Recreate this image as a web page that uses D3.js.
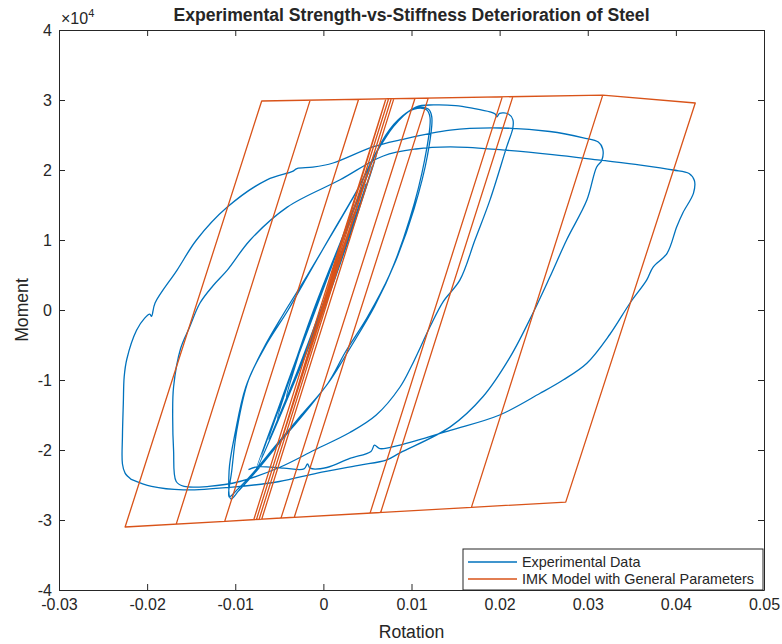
<!DOCTYPE html>
<html>
<head>
<meta charset="utf-8">
<script src="https://cdn.jsdelivr.net/npm/d3@7"></script>
<style>
  body { margin: 0; background: #ffffff; }
  text { font-family: "Liberation Sans", Arial, Helvetica, sans-serif; fill: #262626; }
</style>
</head>
<body>
<svg id="chart" width="782" height="644"></svg>
<script>
// ---------------- data ----------------
const titleText = "Experimental Strength-vs-Stiffness Deterioration of Steel";
const xLabelText = "Rotation";
const yLabelText = "Moment";
const seriesNames = ["Experimental Data", "IMK Model with General Parameters"];

const xTicks = [-0.03, -0.02, -0.01, 0, 0.01, 0.02, 0.03, 0.04, 0.05];
const xTickLabels = ["-0.03", "-0.02", "-0.01", "0", "0.01", "0.02", "0.03", "0.04", "0.05"];
const yTicks = [-40000, -30000, -20000, -10000, 0, 10000, 20000, 30000, 40000];
const yTickLabels = ["-4", "-3", "-2", "-1", "0", "1", "2", "3", "4"];

// Experimental hysteresis (null = break between traced segments)
const expRotation = [
  0, 0.0030, -0.0003, -0.0042, -0.0011, 0.0040, -0.0002, -0.0052, -0.0011, 0.0048, -0.0002, -0.0062, -0.0010,
  0.0055, -0.0001, -0.0070, -0.0010, 0.0062, 0.0000, -0.0077, -0.0009,
  0.0030, 0.0066, 0.0085, 0.0103, 0.0117, 0.0121,
  0.0115, 0.0098, 0.0075, 0.0050, 0.0025, 0.0005, -0.0025, -0.0055, -0.0080, -0.0098, -0.0107,
  -0.0104, -0.0098, -0.0085, -0.0065, -0.0040, -0.0015, 0.0010, 0.0040, 0.0065, 0.0088, 0.0106, 0.0119, 0.0123,
  0.0118, 0.0103, 0.0082, 0.0058, 0.0030, 0.0008, -0.0020, -0.0050, -0.0076, -0.0096, -0.0105,
  -0.0107, -0.0100, -0.0088, -0.0068, -0.0045, -0.0018, 0.0008, 0.0038, 0.0062, 0.0085, 0.0105, 0.0125, 0.0150, 0.0170,
  0.0189, 0.0195, 0.0197, 0.0200, 0.0210, 0.0215, 0.0215,
  0.0208, 0.0189, 0.0172, 0.0155, 0.0136, 0.0121, 0.0100, 0.0087, 0.0060, 0.0030, -0.0010, -0.0050, -0.0095, -0.0130, -0.0158, -0.0167,
  -0.0170, -0.0171, -0.0170, -0.0162, -0.0152, -0.0140, -0.0125, -0.0109, -0.0083, -0.0041, 0.0019, 0.0068, 0.0105, 0.0144,
  0.0200, 0.0260, 0.0314, 0.0360, 0.0397, 0.0415, 0.0421,
  0.0420, 0.0408, 0.0401, 0.0390, 0.0374, 0.0367, 0.0348, 0.0325, 0.0299, 0.0272, 0.0246, 0.0200, 0.0144, 0.0087,
  0.0064, 0.0058, 0.0054, 0.0030, 0.0004, -0.0015, -0.0018, -0.0022, -0.0045, -0.0075, -0.0085,
  null,
  -0.0218, -0.0225, -0.0228, -0.0228, -0.0227, -0.0226, -0.0223, -0.0212, -0.0203, -0.0197, -0.0195, -0.0191, -0.0166,
  -0.0144, -0.0109, -0.0064, -0.0035, -0.0030, -0.0012, 0.0011, 0.0056, 0.0087, 0.0144, 0.0200, 0.0257, 0.0295, 0.0312,
  0.0317, 0.0316, 0.0310, 0.0299, 0.0276, 0.0257, 0.0238, 0.0212, 0.0181, 0.0144, 0.0087, 0.0072, 0.0040, -0.0007,
  -0.0050, -0.0103, -0.0159, -0.0195, -0.0218
];
const expMoment = [
  0, 11500, 0, -12500, 0, 15000, 0, -15500, 0, 18000, 0, -18500, 0,
  20500, 0, -21000, 0, 23000, 0, -23000, 0,
  13000, 24000, 27200, 28700, 28600, 27500,
  21500, 13000, 5000, -1000, -6000, -10500, -15000, -19500, -23300, -25700, -26700,
  -23000, -17000, -10000, -5000, 0, 5500, 11000, 17500, 23500, 27500, 28900, 28700, 27600,
  22000, 14500, 7000, 500, -5500, -10000, -14500, -19000, -23000, -25800, -27000,
  -23000, -17500, -11000, -5500, -500, 5000, 10500, 17000, 23000, 27000, 29000, 29300, 29200, 28800,
  28300, 28000, 27600, 28100, 28000, 27200, 26000,
  23300, 15700, 10000, 4300, 1200, -2400, -8000, -11000, -15000, -17500, -20000, -22500, -24500, -25200, -25200, -24500,
  -20000, -15000, -11000, -5500, -2500, 1000, 3500, 5700, 10000, 14700, 18600, 22000, 23000, 23300,
  22900, 22200, 21400, 20700, 20000, 19500, 18500,
  16700, 13900, 11900, 8100, 6100, 4300, 1000, -3500, -7600, -10000, -11900, -15000, -17200, -19300,
  -19800, -19300, -20200, -21200, -22500, -22600, -22000, -22700, -22600, -22400, -22800,
  null,
  -24200, -23300, -22000, -18000, -13300, -9500, -7000, -2900, -1200, -600, -900, 1000, 5700,
  10000, 14700, 18600, 19800, 20200, 20400, 21000, 23300, 24300, 25700, 26000, 25500, 24600, 24000,
  23000, 21400, 20400, 15700, 10000, 4700, -400, -6700, -12400, -16700, -20400, -21400, -22200, -23300,
  -24500, -25300, -25700, -25200, -24200
];

// IMK model response (turning points of the piecewise-linear model)
const imkRotation = [
  0, 0.0037, -0.0037, 0.0050, -0.0050, 0.0071, 0.0074, -0.0076, -0.0079, 0.0071, 0.0077, -0.0073, -0.0079,
  0.0071, 0.0080, -0.0070, -0.0079, 0.0071, 0.0104, -0.0048, -0.0112, 0.0040, 0.0119, -0.0033, -0.0112,
  0.0040, 0.0215, 0.0065, -0.0167, -0.0015, 0.0203, 0.0053, -0.0167, -0.0015, 0.0317, 0.0168, -0.0225,
  -0.0070, 0.0317, 0.0422, 0.0275, 0.0168
];
const imkMoment = [
  0, 14500, -14500, 19600, -19600, 30170, 30170, -29940, -29960, 30170, 30180, -29920, -29960,
  30170, 30190, -29900, -29960, 30170, 30240, -29700, -30190, 30100, 30270, -29600, -30190,
  30100, 30480, -28930, -30590, 29980, 30450, -29020, -30590, 29980, 30700, -28200, -31000,
  29860, 30700, 29570, -27440, -28200
];

// ---------------- chart ----------------
const W = 782, H = 644;
const plot = { left: 59, right: 764, top: 30, bottom: 590 };
const colors = ["#0072BD", "#D95319"];
const axisColor = "#262626";

const svg = d3.select("#chart");
svg.append("rect").attr("width", W).attr("height", H).attr("fill", "#ffffff");

const x = d3.scaleLinear().domain([-0.03, 0.05]).range([plot.left, plot.right]);
const y = d3.scaleLinear().domain([-40000, 40000]).range([plot.bottom, plot.top]);

svg.append("defs").append("clipPath").attr("id", "clip")
  .append("rect").attr("x", plot.left).attr("y", plot.top)
  .attr("width", plot.right - plot.left).attr("height", plot.bottom - plot.top);

const g = svg.append("g").attr("clip-path", "url(#clip)");

const expData = expRotation.map((r, i) => [r, expMoment[i]]);
const imkData = imkRotation.map((r, i) => [r, imkMoment[i]]);

const expLine = d3.line()
  .defined(d => d[0] !== null && d[1] !== null)
  .x(d => x(d[0])).y(d => y(d[1]))
  .curve(d3.curveCatmullRom.alpha(0.5));
const imkLine = d3.line().x(d => x(d[0])).y(d => y(d[1]));

g.append("path").attr("d", expLine(expData))
  .attr("fill", "none").attr("stroke", colors[0]).attr("stroke-width", 1.3)
  .attr("stroke-linejoin", "round");
g.append("path").attr("d", imkLine(imkData))
  .attr("fill", "none").attr("stroke", colors[1]).attr("stroke-width", 1.3)
  .attr("stroke-linejoin", "round");

// axes
const tickLen = 6;
const xAxisB = d3.axisBottom(x).tickValues(xTicks).tickFormat((d, i) => xTickLabels[i])
  .tickSizeInner(-tickLen).tickSizeOuter(0).tickPadding(9);
const xAxisT = d3.axisTop(x).tickValues(xTicks).tickFormat("")
  .tickSizeInner(-tickLen).tickSizeOuter(0);
const yAxisL = d3.axisLeft(y).tickValues(yTicks).tickFormat((d, i) => yTickLabels[i])
  .tickSizeInner(-tickLen).tickSizeOuter(0).tickPadding(7);
const yAxisR = d3.axisRight(y).tickValues(yTicks).tickFormat("")
  .tickSizeInner(-tickLen).tickSizeOuter(0);

function styleAxis(sel) {
  sel.selectAll("path.domain").attr("stroke", axisColor).attr("stroke-width", 1);
  sel.selectAll(".tick line").attr("stroke", axisColor).attr("stroke-width", 1);
  sel.selectAll(".tick text").attr("fill", axisColor)
    .style("font-family", '"Liberation Sans", Arial, sans-serif').style("font-size", "16px");
}
svg.append("g").attr("transform", `translate(0,${plot.bottom})`).call(xAxisB).call(styleAxis);
svg.append("g").attr("transform", `translate(0,${plot.top})`).call(xAxisT).call(styleAxis);
svg.append("g").attr("transform", `translate(${plot.left},0)`).call(yAxisL).call(styleAxis);
svg.append("g").attr("transform", `translate(${plot.right},0)`).call(yAxisR).call(styleAxis);

// exponent label
const expo = svg.append("text").attr("x", plot.left + 2).attr("y", 24).style("font-size", "16px");
expo.append("tspan").text("\u00D710");
expo.append("tspan").attr("dy", -7).style("font-size", "11px").text("4");

// title & labels
svg.append("text").attr("x", (plot.left + plot.right) / 2).attr("y", 21)
  .attr("text-anchor", "middle").style("font-size", "17.6px").style("font-weight", "bold")
  .text(titleText);
svg.append("text").attr("x", (plot.left + plot.right) / 2).attr("y", 638)
  .attr("text-anchor", "middle").style("font-size", "17.6px").text(xLabelText);
svg.append("text").attr("transform", `translate(28,${(plot.top + plot.bottom) / 2}) rotate(-90)`)
  .attr("text-anchor", "middle").style("font-size", "17.6px").text(yLabelText);

// legend
const lg = svg.append("g");
const legBox = { x: 463, y: 549, w: 300, h: 41 };
lg.append("rect").attr("x", legBox.x).attr("y", legBox.y).attr("width", legBox.w).attr("height", legBox.h)
  .attr("fill", "#ffffff").attr("stroke", axisColor).attr("stroke-width", 1);
seriesNames.forEach((name, i) => {
  const yy = legBox.y + 13 + i * 17;
  lg.append("line").attr("x1", legBox.x + 5).attr("x2", legBox.x + 54)
    .attr("y1", yy).attr("y2", yy).attr("stroke", colors[i]).attr("stroke-width", 1.3);
  lg.append("text").attr("x", legBox.x + 59).attr("y", yy).attr("dy", "0.35em")
    .style("font-size", "14.4px").text(name);
});
</script>
</body>
</html>
